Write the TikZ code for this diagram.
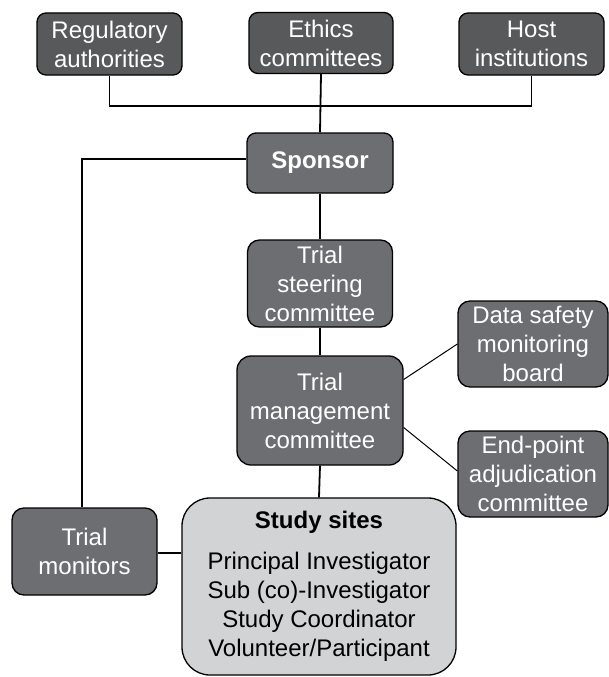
\documentclass[tikz,border=0pt]{standalone}
\usepackage{fontspec}
\setmainfont{Liberation Sans}
\definecolor{darkg}{RGB}{88,89,91}
\definecolor{midg}{RGB}{109,110,113}
\definecolor{lightg}{RGB}{210,211,213}
\tikzset{
  box/.style={draw=black, line width=1.3pt, rounded corners=9pt, align=center, text=white,
    inner sep=0pt, font=\fontsize{24}{29}\selectfont},
  darkbox/.style={box, fill=darkg},
  midbox/.style={box, fill=midg},
  conn/.style={line width=1.8pt},
  thinconn/.style={line width=1pt}
}
\begin{document}
\begin{tikzpicture}[x=1pt,y=-1pt]
\useasboundingbox (0,0) rectangle (609,677);
% top row
\node[darkbox, minimum width=145pt, minimum height=62pt] (reg) at (109.5,44) {Regulatory\\authorities};
\node[darkbox, minimum width=144pt, minimum height=61pt] (eth) at (321,43) {Ethics\\committees};
\node[darkbox, minimum width=145pt, minimum height=62pt] (host) at (531.5,44) {Host\\institutions};
% spine
\node[midbox, minimum width=146pt, minimum height=60pt] (sponsor) at (320,163) {\bfseries Sponsor};
\node[midbox, minimum width=145pt, minimum height=87pt, rounded corners=12pt] (steer) at (320,283.5) {Trial\\steering\\committee};
\node[midbox, minimum width=166pt, minimum height=109pt, rounded corners=14pt] (mgmt) at (320,410.5) {Trial\\management\\committee};
% right side
\node[midbox, minimum width=150pt, minimum height=86pt, rounded corners=12pt] (dsmb) at (533,344) {Data safety\\monitoring\\board};
\node[midbox, minimum width=150pt, minimum height=86pt, rounded corners=12pt] (epac) at (533,474) {End-point\\adjudication\\committee};
% bottom
\node[midbox, minimum width=145pt, minimum height=87pt, rounded corners=12pt] (mon) at (84.5,551.5) {Trial\\monitors};
\node[box, fill=lightg, text=black, minimum width=274pt, minimum height=177pt, rounded corners=28pt] (sites) at (319,586.5)
  {{\bfseries Study sites}\\[12pt]Principal Investigator\\Sub (co)-Investigator\\Study Coordinator\\Volunteer/Participant};
% connectors
\coordinate (j) at (320,106);
\coordinate (sl) at (82,159);
\draw[conn] (reg.south) |- (j) -| (host.south);
\draw[conn] (eth.south) -- (sponsor.north);
\draw[conn] (sponsor.west |- sl) -- (sl) -- (sl |- mon.north);
\draw[conn] (sponsor.south) -- (steer.north);
\draw[conn] (steer.south) -- (mgmt.north);
\draw[conn] (mgmt.south) -- (sites.north);
\draw[conn] (mon.east |- 0,553) -- (sites.west |- 0,553);
\draw[thinconn] ([yshift=31pt]mgmt.east) -- (dsmb.west);
\draw[thinconn] ([yshift=-17pt]mgmt.east) -- ([yshift=3pt]epac.west);
\end{tikzpicture}
\end{document}
